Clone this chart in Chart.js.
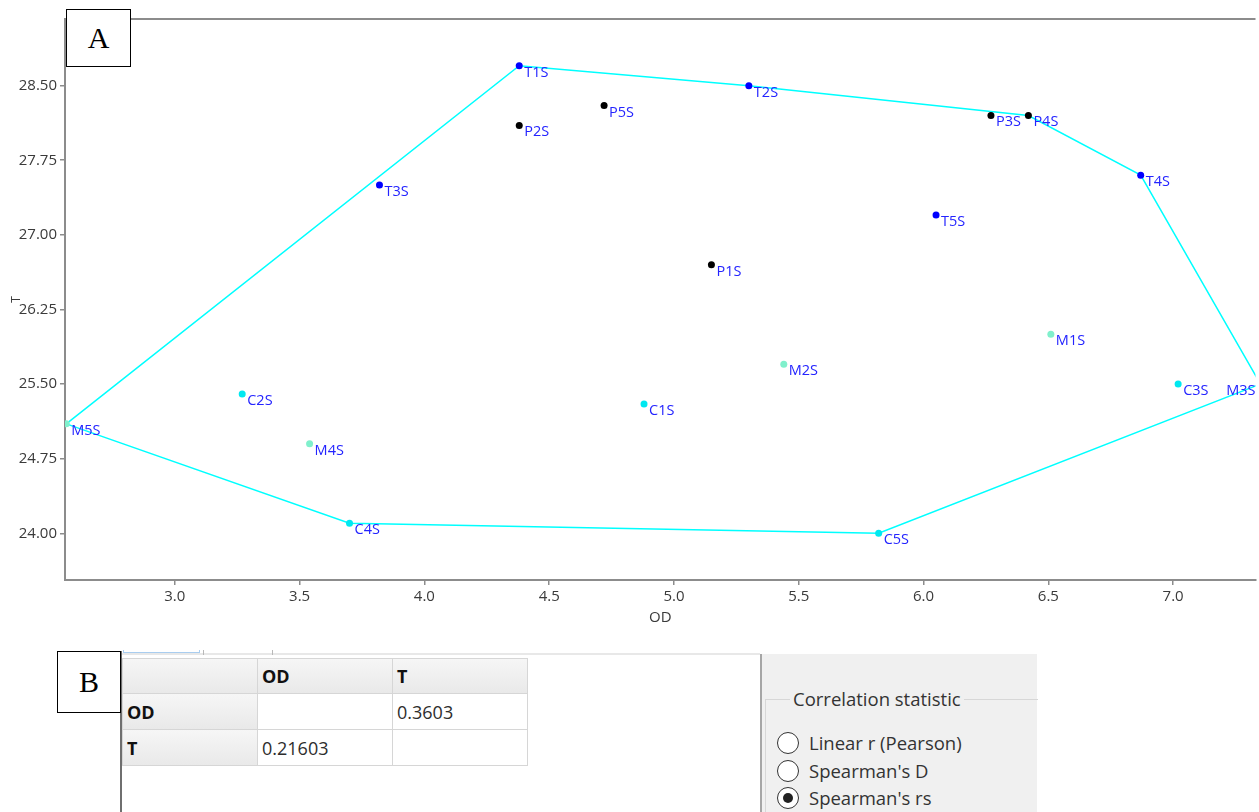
<!DOCTYPE html>
<html>
<head>
<meta charset="utf-8">
<title>OD vs T</title>
<script src="https://cdn.jsdelivr.net/npm/chart.js@4.4.1/dist/chart.umd.min.js"></script>
<style>
  html, body { margin: 0; padding: 0; background: #fff; width: 1259px; height: 812px; overflow: hidden; font-family: 'Open Sans', sans-serif; }
  #plot { position: absolute; left: 0; top: 0; width: 1259px; height: 640px; }
  .tag { position: absolute; background: #fff; border: 1px solid #000; box-sizing: border-box;
         font-family: 'Liberation Serif', 'Times New Roman', serif; font-size: 30px; color: #000;
         display: flex; align-items: center; justify-content: center; z-index: 5; }
  #divider { position: absolute; left: 120px; top: 651px; width: 2px; height: 161px; background: #6f6f6f; }
  #tabline { position: absolute; left: 122px; top: 653px; width: 638px; height: 2px; background: #e8e8e8; }
  .tabsep { position: absolute; top: 650px; width: 1px; height: 5px; background: #b8b8b8; }
  #tabsel { position: absolute; left: 123px; top: 650px; width: 77px; height: 3px; border: 1px solid #a9cdef; border-top: none; box-sizing: border-box; }
  .cell { position: absolute; box-sizing: border-box; border: 1px solid #d6d6d6; font-size: 18px; color: #2d2d2d;
          padding-left: 4px; display: flex; align-items: center; background: #fff; }
  .head { background: linear-gradient(#f6f6f6, #e9e9e9); font-weight: bold; color: #111; }
  #panel { position: absolute; left: 760px; top: 654px; width: 277px; height: 158px; background: #f0f0f0;
           border-left: 2px solid #a6a6a6; box-sizing: border-box; }
  #group { position: absolute; left: 765px; top: 699px; width: 272px; height: 120px; border-top: 1px solid #d7d7d7; border-left: 1px solid #d7d7d7; }
  #legend { position: absolute; left: 790px; top: 685px; padding: 0 3px; background: #f0f0f0; font-size: 18.5px; color: #333; line-height: 28px; }
  .radio { position: absolute; left: 777px; width: 22px; height: 22px; box-sizing: border-box; border: 1.5px solid #333;
           border-radius: 50%; background: #fff; }
  .radio.on::after { content: ''; position: absolute; left: 4.5px; top: 4.5px; width: 10px; height: 10px; border-radius: 50%; background: #222; }
  .rlabel { position: absolute; left: 809px; font-size: 18.5px; color: #333; line-height: 26px; }
</style>
</head>
<body>
<div id="plot"><canvas id="chart" width="1259" height="640"></canvas></div>
<div class="tag" style="left:66px;top:9px;width:65px;height:58px;">A</div>

<div id="divider"></div>
<div id="tabline"></div>
<div id="tabsel"></div>
<div class="tabsep" style="left:203px"></div>
<div class="tabsep" style="left:272px"></div>
<div class="tag" style="left:57px;top:651px;width:64px;height:62px;">B</div>

<div id="table"></div>

<div id="panel"></div>
<div id="group"></div>
<div id="legend">Correlation statistic</div>
<div id="radios"></div>

<script>
// Sample groups: OD (x) and T (y) for each labelled sample
const tNames = ['T1S', 'T2S', 'T3S', 'T4S', 'T5S'];
const tOD    = [4.38, 5.30, 3.82, 6.87, 6.05];
const tT     = [28.70, 28.50, 27.50, 27.60, 27.20];

const pNames = ['P1S', 'P2S', 'P3S', 'P4S', 'P5S'];
const pOD    = [5.15, 4.38, 6.27, 6.42, 4.72];
const pT     = [26.70, 28.10, 28.20, 28.20, 28.30];

const cNames = ['C1S', 'C2S', 'C3S', 'C4S', 'C5S'];
const cOD    = [4.88, 3.27, 7.02, 3.70, 5.82];
const cT     = [25.30, 25.40, 25.50, 24.10, 24.00];

const mNames = ['M1S', 'M2S', 'M3S', 'M4S', 'M5S'];
const mOD    = [6.51, 5.44, 7.35, 3.54, 2.565];
const mT     = [26.00, 25.70, 25.50, 24.90, 25.10];

// Convex hull around all samples, as a closed path of sample names
const hullOrder = ['M5S', 'T1S', 'T2S', 'P4S', 'T4S', 'M3S', 'C5S', 'C4S', 'M5S'];

// Axis ticks
const xTicks = [3.0, 3.5, 4.0, 4.5, 5.0, 5.5, 6.0, 6.5, 7.0];
const yTicks = [24.00, 24.75, 25.50, 26.25, 27.00, 27.75, 28.50];

// Correlation table
const corrVars = ['OD', 'T'];
const corrCells = [['', '0.3603'], ['0.21603', '']];
const statOptions = ['Linear r (Pearson)', "Spearman's D", "Spearman's rs"];
const statSelected = 2;

function toPoints(xs, ys) { return xs.map((x, i) => ({ x: x, y: ys[i] })); }

const lookup = {};
[[tNames, tOD, tT], [pNames, pOD, pT], [cNames, cOD, cT], [mNames, mOD, mT]].forEach(([n, xs, ys]) => {
  n.forEach((name, i) => { lookup[name] = { x: xs[i], y: ys[i] }; });
});
const hullPoints = hullOrder.map(n => lookup[n]);

function pointSet(names, xs, ys, color) {
  return {
    type: 'scatter', names: names, data: toPoints(xs, ys),
    backgroundColor: color, borderWidth: 0, pointRadius: 3.5, pointHoverRadius: 3.5
  };
}

// Sample names written beside each dot, kept inside the plot area
const pointLabels = {
  id: 'pointLabels',
  afterDatasetsDraw(chart) {
    const { ctx, chartArea } = chart;
    ctx.save();
    ctx.font = "14.5px 'Open Sans'";
    ctx.fillStyle = '#2424ff';
    ctx.textBaseline = 'alphabetic';
    chart.data.datasets.forEach((ds, di) => {
      if (!ds.names) return;
      chart.getDatasetMeta(di).data.forEach((pt, i) => {
        const w = ctx.measureText(ds.names[i]).width;
        let x = pt.x + 5;
        if (x + w > chartArea.right) x = chartArea.right - w;
        ctx.fillText(ds.names[i], x, pt.y + 11);
      });
    });
    ctx.restore();
  }
};

// Top edge of the plot frame
const topFrame = {
  id: 'topFrame',
  beforeDatasetsDraw(chart) {
    const { ctx, chartArea } = chart;
    ctx.save();
    ctx.strokeStyle = '#8c8c8c';
    ctx.lineWidth = 2;
    ctx.beginPath();
    ctx.moveTo(chartArea.left, chartArea.top);
    ctx.lineTo(chartArea.right, chartArea.top);
    ctx.stroke();
    ctx.restore();
  }
};

const axisColor = '#8c8c8c';
const tickFont = { family: "'Open Sans'", size: 15 };

new Chart(document.getElementById('chart'), {
  type: 'scatter',
  data: {
    datasets: [
      pointSet(tNames, tOD, tT, '#0000ff'),
      pointSet(pNames, pOD, pT, '#000000'),
      pointSet(cNames, cOD, cT, '#00e8f0'),
      pointSet(mNames, mOD, mT, '#80f0cc'),
      {
        type: 'line', data: hullPoints, borderColor: '#00ffff', borderWidth: 1.5,
        pointRadius: 0, fill: false, tension: 0
      }
    ]
  },
  options: {
    responsive: false,
    animation: false,
    events: [],
    layout: { padding: { top: 19, right: 0, left: 0, bottom: 0 } },
    plugins: { legend: { display: false }, tooltip: { enabled: false } },
    scales: {
      x: {
        type: 'linear', min: 2.56, max: 7.33,
        afterFit: s => { s.height = 60; s.paddingLeft = 0; s.paddingRight = 0; },
        afterBuildTicks: s => { s.ticks = xTicks.map(v => ({ value: v })); },
        ticks: { callback: v => Number(v).toFixed(1), color: '#3a3a3a', font: tickFont, padding: 3, maxRotation: 0 },
        grid: { drawOnChartArea: false, drawTicks: true, tickLength: 5, color: axisColor, lineWidth: 1.5 },
        border: { display: true, color: axisColor, width: 2 },
        title: { display: true, text: 'OD', color: '#3a3a3a', font: { family: "'Open Sans'", size: 15 }, padding: { top: 0, bottom: 13 } }
      },
      y: {
        type: 'linear', min: 23.53, max: 29.17,
        afterFit: s => { s.width = 65; s.paddingTop = 0; s.paddingBottom = 0; },
        afterBuildTicks: s => { s.ticks = yTicks.map(v => ({ value: v })); },
        ticks: { callback: v => Number(v).toFixed(2), color: '#3a3a3a', font: tickFont, padding: 3 },
        grid: { drawOnChartArea: false, drawTicks: true, tickLength: 5, color: axisColor, lineWidth: 1.5 },
        border: { display: true, color: axisColor, width: 2 },
        title: { display: true, text: 'T', color: '#3a3a3a', font: { family: "'Open Sans'", size: 12 }, padding: { top: 9, bottom: 0 } }
      }
    }
  },
  plugins: [topFrame, pointLabels]
});

// Correlation matrix grid
(function buildTable() {
  const host = document.getElementById('table');
  const colX = [122, 257, 392, 527];
  const rowY = [658, 693, 729, 765];
  const header = [''].concat(corrVars);
  const rows = [header].concat(corrVars.map((v, i) => [v].concat(corrCells[i])));
  rows.forEach((row, r) => {
    row.forEach((txt, c) => {
      const d = document.createElement('div');
      d.className = 'cell' + ((r === 0 || c === 0) ? ' head' : '');
      d.style.left = colX[c] + 'px';
      d.style.top = rowY[r] + 'px';
      d.style.width = (colX[c + 1] - colX[c] + 1) + 'px';
      d.style.height = (rowY[r + 1] - rowY[r] + 1) + 'px';
      d.textContent = txt;
      host.appendChild(d);
    });
  });
})();

// Statistic chooser
(function buildRadios() {
  const host = document.getElementById('radios');
  const centers = [743, 770.5, 798];
  statOptions.forEach((label, i) => {
    const r = document.createElement('div');
    r.className = 'radio' + (i === statSelected ? ' on' : '');
    r.style.top = (centers[i] - 11) + 'px';
    host.appendChild(r);
    const t = document.createElement('div');
    t.className = 'rlabel';
    t.style.top = (centers[i] - 13) + 'px';
    t.textContent = label;
    host.appendChild(t);
  });
})();
</script>
</body>
</html>
